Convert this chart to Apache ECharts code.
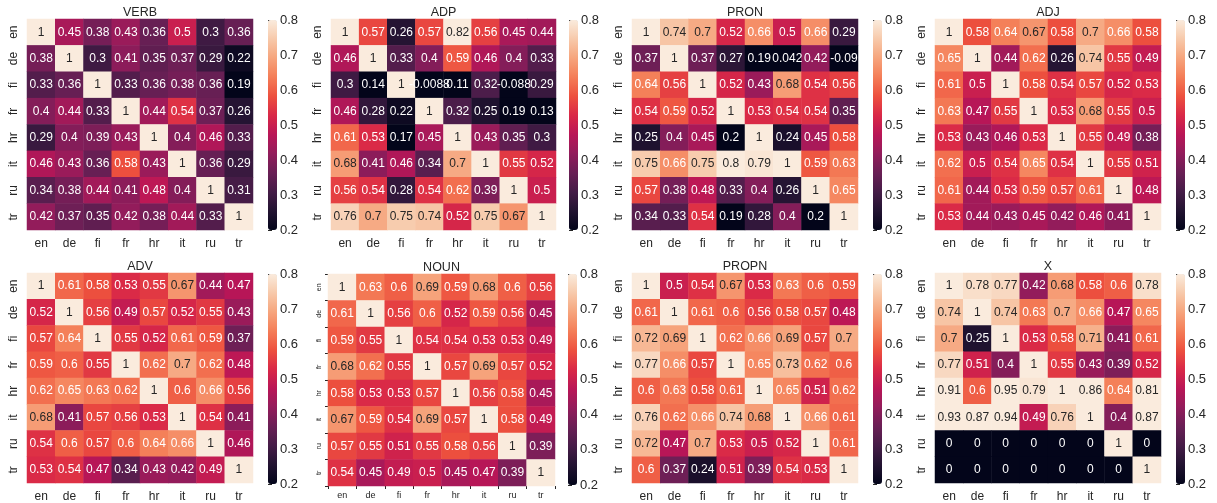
<!DOCTYPE html>
<html>
<head>
<meta charset="utf-8">
<script src="https://cdn.jsdelivr.net/npm/echarts@6/dist/echarts.min.js"></script>
<style>html,body{margin:0;padding:0;background:#fff}#c{width:1217px;height:503px}</style>
</head>
<body>
<div id="c"></div>
<script>
const langs = ['en','de','fi','fr','hr','it','ru','tr'];
const cbTicks = [0.2,0.3,0.4,0.5,0.6,0.7,0.8];
const verb = [[1,0.45,0.38,0.43,0.36,0.5,0.3,0.36],[0.38,1,0.3,0.41,0.35,0.37,0.29,0.22],[0.33,0.36,1,0.33,0.36,0.38,0.36,0.19],[0.4,0.44,0.33,1,0.44,0.54,0.37,0.26],[0.29,0.4,0.39,0.43,1,0.4,0.46,0.33],[0.46,0.43,0.36,0.58,0.43,1,0.36,0.29],[0.34,0.38,0.44,0.41,0.48,0.4,1,0.31],[0.42,0.37,0.35,0.42,0.38,0.44,0.33,1]];
const adp = [[1,0.57,0.26,0.57,0.82,0.56,0.45,0.44],[0.46,1,0.33,0.4,0.59,0.46,0.4,0.33],[0.3,0.14,1,-0.0088,0.11,0.32,-0.088,0.29],[0.46,0.28,0.22,1,0.32,0.25,0.19,0.13],[0.61,0.53,0.17,0.45,1,0.43,0.35,0.3],[0.68,0.41,0.46,0.34,0.7,1,0.55,0.52],[0.56,0.54,0.28,0.54,0.62,0.39,1,0.5],[0.76,0.7,0.75,0.74,0.52,0.75,0.67,1]];
const pron = [[1,0.74,0.7,0.52,0.66,0.5,0.66,0.29],[0.37,1,0.37,0.27,0.19,0.042,0.42,-0.09],[0.64,0.56,1,0.52,0.43,0.68,0.54,0.56],[0.54,0.59,0.52,1,0.53,0.54,0.54,0.35],[0.25,0.4,0.45,0.2,1,0.24,0.45,0.58],[0.75,0.66,0.75,0.8,0.79,1,0.59,0.63],[0.57,0.38,0.48,0.33,0.4,0.26,1,0.65],[0.34,0.33,0.54,0.19,0.28,0.4,0.2,1]];
const adj = [[1,0.58,0.64,0.67,0.58,0.7,0.66,0.58],[0.65,1,0.44,0.62,0.26,0.74,0.55,0.49],[0.61,0.5,1,0.58,0.54,0.57,0.52,0.53],[0.63,0.47,0.55,1,0.53,0.68,0.55,0.5],[0.53,0.43,0.46,0.53,1,0.55,0.49,0.38],[0.62,0.5,0.54,0.65,0.54,1,0.55,0.51],[0.61,0.44,0.53,0.59,0.57,0.61,1,0.48],[0.53,0.44,0.43,0.45,0.42,0.46,0.41,1]];
const adv = [[1,0.61,0.58,0.53,0.55,0.67,0.44,0.47],[0.52,1,0.56,0.49,0.57,0.52,0.55,0.43],[0.57,0.64,1,0.55,0.52,0.61,0.59,0.37],[0.59,0.6,0.55,1,0.62,0.7,0.62,0.48],[0.62,0.65,0.63,0.62,1,0.6,0.66,0.56],[0.68,0.41,0.57,0.56,0.53,1,0.54,0.41],[0.54,0.6,0.57,0.6,0.64,0.66,1,0.46],[0.53,0.54,0.47,0.34,0.43,0.42,0.49,1]];
const noun = [[1,0.63,0.6,0.69,0.59,0.68,0.6,0.56],[0.61,1,0.56,0.6,0.52,0.59,0.56,0.45],[0.59,0.55,1,0.54,0.54,0.53,0.53,0.49],[0.68,0.62,0.55,1,0.57,0.69,0.57,0.52],[0.58,0.53,0.53,0.57,1,0.56,0.58,0.45],[0.67,0.59,0.54,0.69,0.57,1,0.58,0.49],[0.57,0.55,0.51,0.55,0.58,0.56,1,0.39],[0.54,0.45,0.49,0.5,0.45,0.47,0.39,1]];
const propn = [[1,0.5,0.54,0.67,0.53,0.63,0.6,0.59],[0.61,1,0.61,0.6,0.56,0.58,0.57,0.48],[0.72,0.69,1,0.62,0.66,0.69,0.57,0.7],[0.77,0.66,0.57,1,0.65,0.73,0.62,0.6],[0.6,0.63,0.58,0.61,1,0.65,0.51,0.62],[0.76,0.62,0.664,0.74,0.68,1,0.66,0.61],[0.72,0.47,0.7,0.53,0.5,0.52,1,0.61],[0.6,0.37,0.24,0.51,0.39,0.54,0.53,1]];
const xpos = [[1,0.78,0.77,0.42,0.68,0.58,0.6,0.78],[0.74,1,0.74,0.63,0.7,0.66,0.47,0.65],[0.7,0.25,1,0.53,0.58,0.71,0.41,0.61],[0.77,0.51,0.4,1,0.55,0.43,0.39,0.52],[0.91,0.6,0.95,0.79,1,0.86,0.64,0.81],[0.93,0.87,0.94,0.49,0.76,1,0.4,0.87],[0,0,0,0,0,0,1,0],[0,0,0,0,0,0,0,1]];

// seaborn "rocket" colormap, evenly spaced stops
const rocket = ['#03051a','#221331','#451c47','#691f55','#921c5b','#b91657','#d92847','#ed503e','#f47d57','#f6a47c','#f7c9aa','#faebdd'];
const VMIN = 0.2, VMAX = 0.8;
function hex2rgb(h){return [parseInt(h.substr(1,2),16),parseInt(h.substr(3,2),16),parseInt(h.substr(5,2),16)];}
function cmap(v){
  let t = (v - VMIN) / (VMAX - VMIN); t = Math.max(0, Math.min(1, t));
  const p = t * (rocket.length - 1); const i = Math.min(Math.floor(p), rocket.length - 2); const f = p - i;
  const a = hex2rgb(rocket[i]), b = hex2rgb(rocket[i+1]);
  return [0,1,2].map(k => a[k] + (b[k]-a[k]) * f);
}
function lum(rgb){
  const c = rgb.map(x => { x /= 255; return x <= 0.03928 ? x/12.92 : Math.pow((x+0.055)/1.055, 2.4); });
  return 0.2126*c[0] + 0.7152*c[1] + 0.0722*c[2];
}
function fmt2g(v){ return String(Number(v.toPrecision(2))); }

const FONT = "'Liberation Sans', Arial, sans-serif";
const TXT = '#262626';

const panels = [
  {name:'VERB', data:verb, left:27, top:19, width:226, height:211, cb:268, cbTop:20, cbH:210},
  {name:'ADP', data:adp, left:331, top:19, width:225, height:211, cb:569, cbTop:20, cbH:210},
  {name:'PRON', data:pron, left:632, top:19, width:226, height:211, cb:873, cbTop:20, cbH:210},
  {name:'ADJ', data:adj, left:935, top:19, width:226, height:211, cb:1176, cbTop:20, cbH:210},
  {name:'ADV', data:adv, left:27, top:273, width:226, height:211, cb:268, cbTop:274, cbH:210},
  {name:'NOUN', data:noun, left:328, top:274, width:227, height:212, cb:568, cbTop:274, cbH:211, small:true},
  {name:'PROPN', data:propn, left:632, top:273, width:226, height:211, cb:873, cbTop:274, cbH:210},
  {name:'X', data:xpos, left:935, top:273, width:226, height:211, cb:1176, cbTop:274, cbH:210}
];

const option = {
  backgroundColor:'#fff', animation:false,
  title:[], grid:[], xAxis:[], yAxis:[], series:[], visualMap:[]
};

panels.forEach((p, i) => {
  option.title.push({
    text:p.name, left:p.left + p.width/2, top:p.top - 13, textAlign:'center', padding:0,
    textStyle:{fontFamily:FONT, fontSize:12.5, fontWeight:'normal', color:TXT}
  });
  // heatmap grid
  option.grid.push({left:p.left, top:p.top, width:p.width, height:p.height, containLabel:false});
  option.xAxis.push({
    type:'category', gridIndex:2*i, data:langs, position:'bottom',
    axisLine:{show:false}, axisTick:{show:!!p.small, length:3, lineStyle:{color:TXT}},
    splitLine:{show:false},
    axisLabel:{color:TXT, fontFamily:FONT, fontSize:p.small ? 9 : 12, margin:p.small ? 5 : 8}
  });
  option.yAxis.push({
    type:'category', gridIndex:2*i, data:langs, inverse:true,
    axisLine:{show:false}, axisTick:{show:!!p.small, length:3, lineStyle:{color:TXT}},
    splitLine:{show:false},
    axisLabel:{color:TXT, fontFamily:FONT, fontSize:p.small ? 7 : 12, rotate:90, margin:p.small ? 5 : 7}
  });
  // colorbar tick grid
  option.grid.push({left:p.cb, top:p.cbTop, width:9, height:p.cbH, containLabel:false});
  option.xAxis.push({type:'value', gridIndex:2*i+1, show:false, min:0, max:1});
  option.yAxis.push({
    type:'value', gridIndex:2*i+1, min:cbTicks[0], max:cbTicks[cbTicks.length-1], interval:0.1,
    position:'right', axisLine:{show:false},
    axisTick:{show:true, length:4, lineStyle:{color:TXT, width:1}},
    splitLine:{show:false},
    axisLabel:{color:TXT, fontFamily:FONT, fontSize:13, margin:3, formatter:v => fmt2g(v)}
  });
  const cells = [];
  p.data.forEach((row, r) => row.forEach((v, c) => {
    const dark = lum(cmap(v)) > 0.408;
    cells.push({value:[c, r, v], label:{color: dark ? TXT : '#ffffff'}});
  }));
  option.series.push({
    type:'heatmap', xAxisIndex:2*i, yAxisIndex:2*i, data:cells,
    label:{show:true, fontFamily:FONT, fontSize:12, formatter:o => fmt2g(o.value[2])},
    emphasis:{disabled:true}, progressive:0
  });
  option.visualMap.push({
    type:'continuous', seriesIndex:i, min:VMIN, max:VMAX, dimension:2,
    calculable:false, realtime:false, hoverLink:false, text:null, showLabel:false,
    orient:'vertical', left:p.cb, top:p.cbTop, itemWidth:9, itemHeight:p.cbH, padding:0,
    inRange:{color:rocket}
  });
});

const chart = echarts.init(document.getElementById('c'), null, {renderer:'canvas'});
chart.setOption(option);
</script>
</body>
</html>
